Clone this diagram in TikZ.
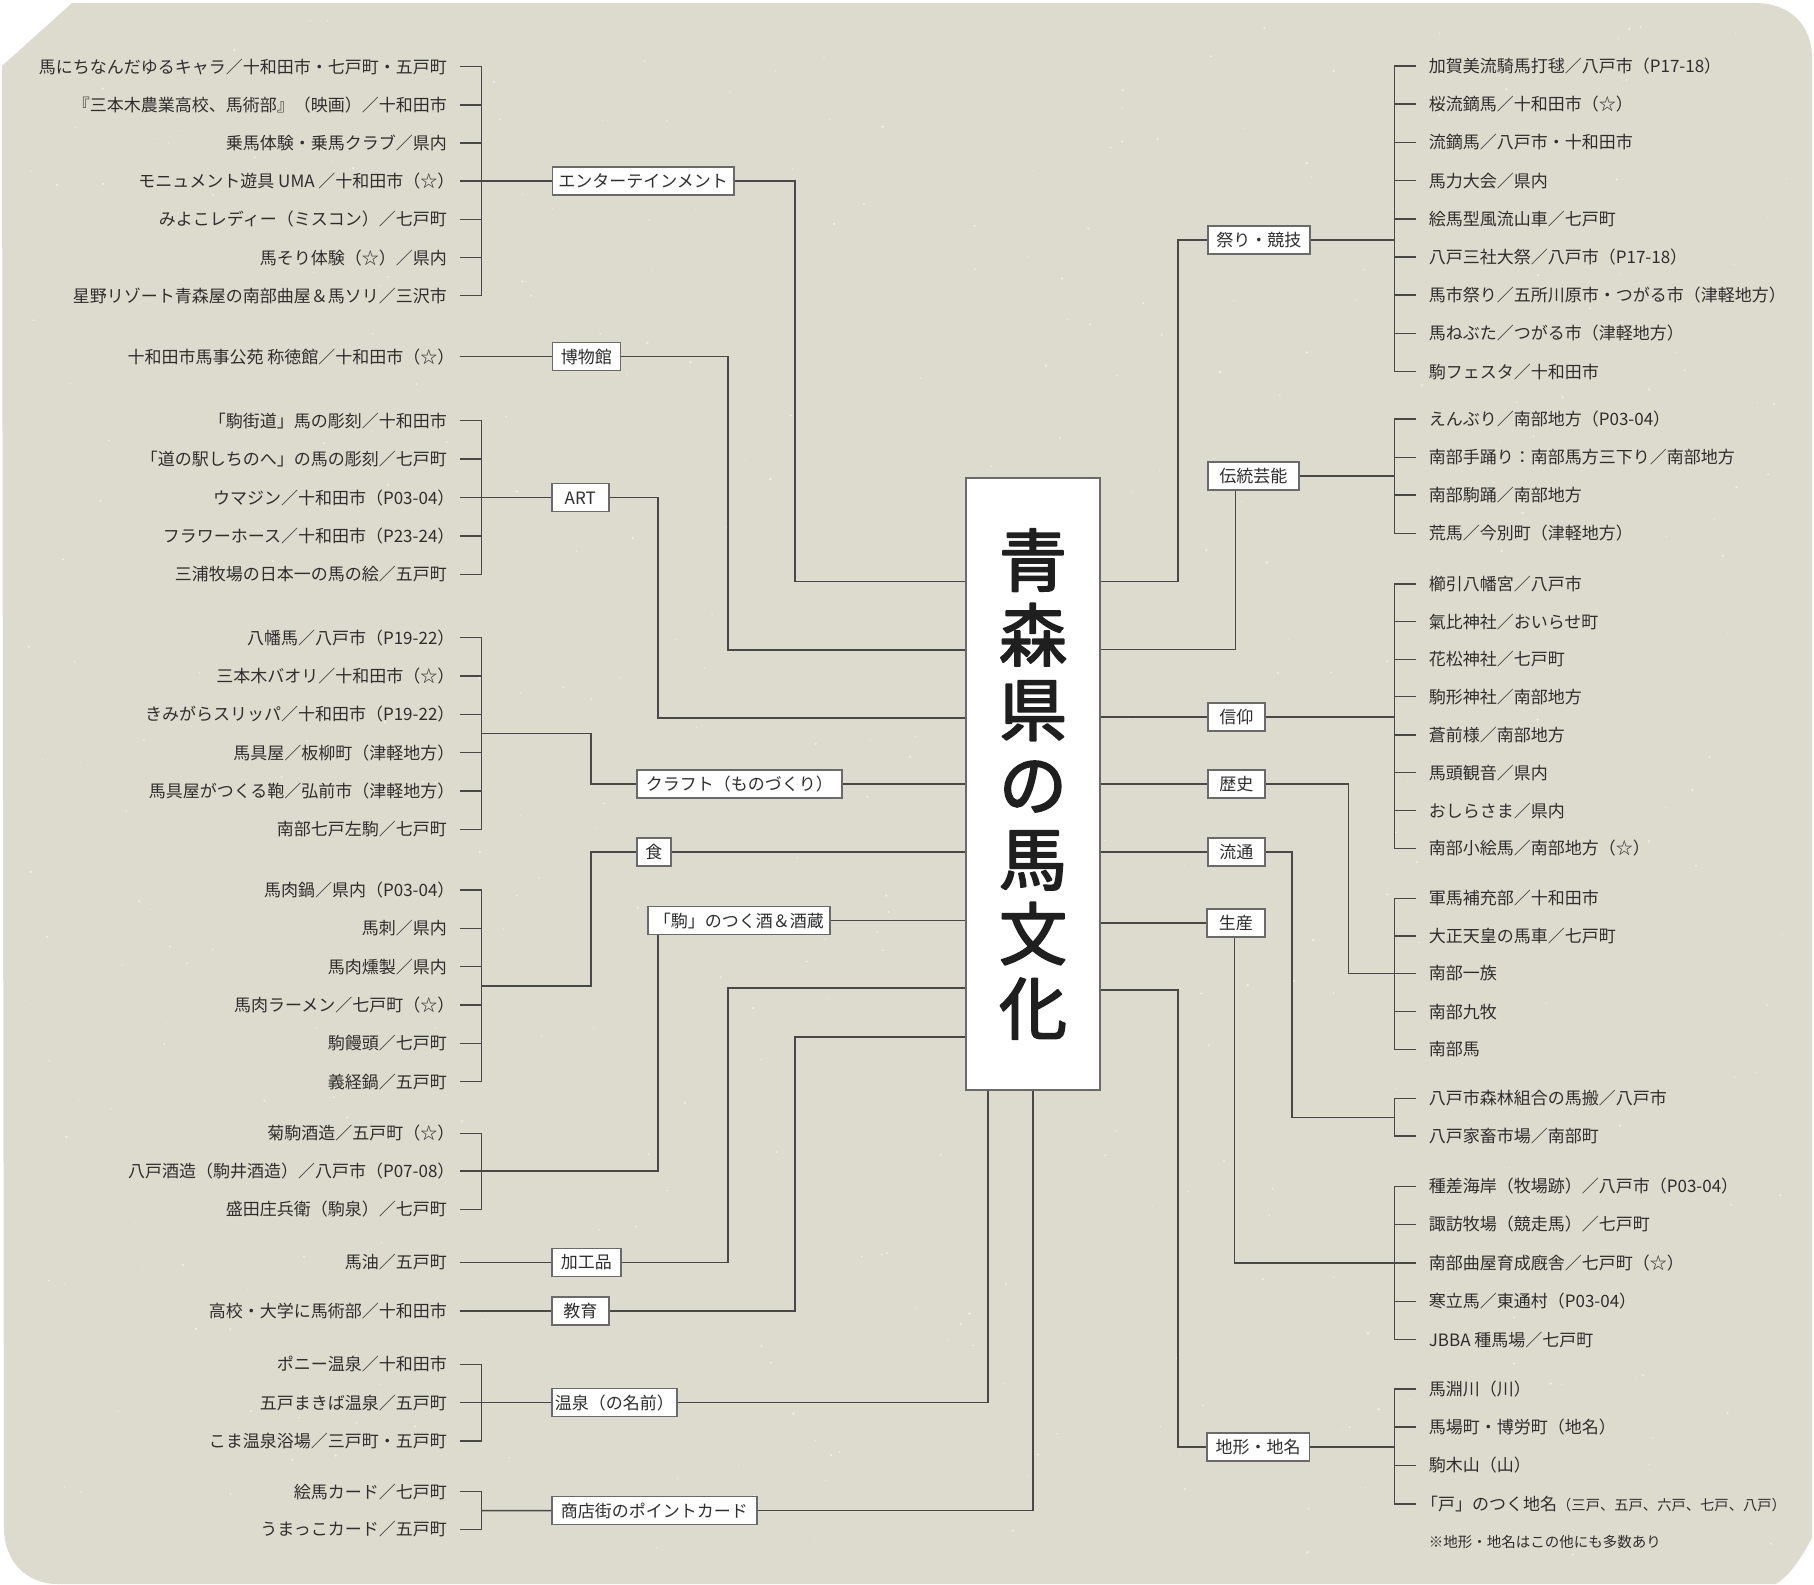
\documentclass[tikz,border=0pt]{standalone}
\usepackage{fontspec}
\setmainfont{Noto Sans CJK JP}
\usetikzlibrary{calc}
\definecolor{bgc}{HTML}{DDDBCD}
\definecolor{linec}{HTML}{484848}
\definecolor{boxc}{HTML}{6A6A6A}
\definecolor{txtc}{HTML}{2E2E2E}
\newcommand\rpk{）\kern-.45em}
\newcommand\lqk{\kern-.45em「}
\newcommand\thickon{\special{pdf:literal direct 2 Tr 1.8 w 1 j}}
\newcommand\thickoff{\special{pdf:literal direct 0 Tr}}
\newcommand\LItem[3]{\node[litem] (#1) at (447,#2) {#3};\draw[conn] ([xshift=12.6pt]#1.east) -- ++(22,0);}
\newcommand\RItem[3]{\node[ritem] (#1) at (1428.6,#2) {#3};\draw[conn] ([xshift=-12.9pt]#1.west) -- ++(-21.4,0);}
\newcommand\LBar[2]{\draw[conn] ([xshift=34.6pt]#1.east) -- ([xshift=34.6pt]#2.east);}
\newcommand\RBar[2]{\draw[conn] ([xshift=-34.3pt]#1.west) -- ([xshift=-34.3pt]#2.west);}
\begin{document}
\begin{tikzpicture}[x=1pt,y=-1pt,
  conn/.style={draw=linec,line width=1.5pt},
  itemtxt/.style={text=txtc,inner sep=0pt,font=\fontsize{17}{20}\selectfont,text height=15pt,text depth=2pt},
  litem/.style={itemtxt,anchor=east},
  ritem/.style={itemtxt,anchor=west},
  catbox/.style={draw=boxc,fill=white,line width=1.5pt,inner sep=0pt,minimum height=28pt,anchor=west,
    text=txtc,font=\fontsize{17}{20}\selectfont,text height=15pt,text depth=2pt},
  mainbox/.style={draw=boxc,fill=white,line width=1.5pt,inner sep=0pt,minimum width=134pt,minimum height=612pt,
    align=center,text=black!88,font=\fontsize{68}{74.7}\selectfont}]
\useasboundingbox (0,0) rectangle (1814,1584);
\fill[white] (0,0) rectangle (1814,1584);
\fill[bgc] (72,3) -- (1755,3) .. controls (1790,3) and (1812,25) .. (1812,58) -- (1812,1538)
  .. controls (1800,1560) and (1790,1575) .. (1776,1584) -- (58,1584)
  .. controls (25,1584) and (4,1560) .. (4,1528) -- (2,66) -- cycle;
% speckle texture
\pgfmathsetseed{4242}
\foreach \i in {1,...,420} {
  \pgfmathsetmacro\px{20+rnd*1770}
  \pgfmathsetmacro\py{20+rnd*1545}
  \pgfmathsetmacro\pr{0.5+rnd*0.9}
  \fill[white,opacity=0.55] (\px,\py) circle (\pr);
}

% main box
\node[mainbox] (main) at (1033,784) {\thickon 青\\\thickon 森\\\thickon 県\\\thickon の\\\thickon 馬\\\thickon 文\\\thickon 化\thickoff};

% ---------- left items ----------
\LItem{e1}{66.7}{馬にちなんだゆるキャラ／十和田市・七戸町・五戸町}
\LItem{e2}{104.9}{『三本木農業高校、馬術部』（映画）／十和田市}
\LItem{e3}{143.0}{乗馬体験・乗馬クラブ／県内}
\LItem{e4}{181.2}{モニュメント遊具 UMA ／十和田市（☆\rpk}
\LItem{e5}{219.4}{みよこレディー（ミスコン）／七戸町}
\LItem{e6}{257.5}{馬そり体験（☆）／県内}
\LItem{e7}{295.7}{星野リゾート青森屋の南部曲屋＆馬ソリ／三沢市}
\LItem{m1}{356.7}{十和田市馬事公苑 称徳館／十和田市（☆\rpk}
\LItem{a1}{420.7}{「駒街道」馬の彫刻／十和田市}
\LItem{a2}{459.1}{「道の駅しちのへ」の馬の彫刻／七戸町}
\LItem{a3}{497.5}{ウマジン／十和田市（P03-04\rpk}
\LItem{a4}{535.9}{フラワーホース／十和田市（P23-24\rpk}
\LItem{a5}{574.3}{三浦牧場の日本一の馬の絵／五戸町}
\LItem{c1}{637.7}{八幡馬／八戸市（P19-22\rpk}
\LItem{c2}{676.0}{三本木バオリ／十和田市（☆\rpk}
\LItem{c3}{714.3}{きみがらスリッパ／十和田市（P19-22\rpk}
\LItem{c4}{752.7}{馬具屋／板柳町（津軽地方\rpk}
\LItem{c5}{791.0}{馬具屋がつくる鞄／弘前市（津軽地方\rpk}
\LItem{c6}{829.3}{南部七戸左駒／七戸町}
\LItem{f1}{890.0}{馬肉鍋／県内（P03-04\rpk}
\LItem{f2}{928.3}{馬刺／県内}
\LItem{f3}{966.7}{馬肉燻製／県内}
\LItem{f4}{1005.0}{馬肉ラーメン／七戸町（☆\rpk}
\LItem{f5}{1043.3}{駒饅頭／七戸町}
\LItem{f6}{1081.7}{義経鍋／五戸町}
\LItem{s1}{1133.3}{菊駒酒造／五戸町（☆\rpk}
\LItem{s2}{1171.0}{八戸酒造（駒井酒造）／八戸市（P07-08\rpk}
\LItem{s3}{1209.3}{盛田庄兵衛（駒泉）／七戸町}
\LItem{p1}{1262.3}{馬油／五戸町}
\LItem{d1}{1311.0}{高校・大学に馬術部／十和田市}
\LItem{o1}{1364.3}{ポニー温泉／十和田市}
\LItem{o2}{1402.7}{五戸まきば温泉／五戸町}
\LItem{o3}{1441.0}{こま温泉浴場／三戸町・五戸町}
\LItem{k1}{1491.7}{絵馬カード／七戸町}
\LItem{k2}{1529.3}{うまっこカード／五戸町}
\LBar{e1}{e7}
\LBar{a1}{a5}
\LBar{c1}{c6}
\LBar{f1}{f6}
\LBar{s1}{s3}
\LBar{o1}{o3}
\LBar{k1}{k2}

% ---------- left category boxes ----------
\node[catbox,minimum width=181.4pt] (ent) at (551.6,181.2) {エンターテインメント};
\node[catbox,minimum width=68pt] (muse) at (551.6,356.7) {博物館};
\node[catbox,minimum width=57pt] (art) at (551,497.5) {ART};
\node[catbox,minimum width=205pt] (craft) at (636,784) {クラフト（ものづくり）};
\node[catbox,minimum width=34pt] (food) at (636,852) {食};
\node[catbox,minimum width=182pt] (sake) at (647,920.7) {「駒」のつく酒＆酒蔵};
\node[catbox,minimum width=69pt] (proc) at (551,1262.3) {加工品};
\node[catbox,minimum width=57pt] (edu) at (551,1311) {教育};
\node[catbox,minimum width=125pt] (onsen) at (551,1402.7) {温泉（の名前）};
\node[catbox,minimum width=205pt] (card) at (551,1510.5) {商店街のポイントカード};

% group -> box
\draw[conn] ([xshift=34.6pt]e4.east) -- (ent.west);
\draw[conn] ([xshift=12.6pt]m1.east) -- (muse.west);
\draw[conn] ([xshift=34.6pt]a3.east) -- (art.west);
\coordinate (jc) at ($(c3.east)!.5!(c4.east)+(34.6,0)$);
\draw[conn] (jc) -| ([xshift=-45pt]craft.west) -- (craft.west);
\coordinate (jf) at ($(f3.east)!.5!(f4.east)+(34.6,0)$);
\draw[conn] (jf) -| ([xshift=-45pt]food.west) -- (food.west);
\draw[conn] ([xshift=34.6pt]s2.east) -| ([xshift=11pt]sake.south west);
\draw[conn] ([xshift=12.6pt]p1.east) -- (proc.west);
\draw[conn] ([xshift=12.6pt]d1.east) -- (edu.west);
\draw[conn] ([xshift=34.6pt]o2.east) -- (onsen.west);
\coordinate (jk) at ($(k1.east)!.5!(k2.east)+(34.6,0)$);
\draw[conn] (jk) -- (card.west);

% box -> main
\coordinate (kEnt) at (795,581.6);
\draw[conn] (ent.east) -| (kEnt) -- (kEnt -| main.west);
\coordinate (kMus) at (728,650);
\draw[conn] (muse.east) -| (kMus) -- (kMus -| main.west);
\coordinate (kArt) at (658,718);
\draw[conn] (art.east) -| (kArt) -- (kArt -| main.west);
\draw[conn] (craft.east) -- (craft.east -| main.west);
\draw[conn] (food.east) -- (food.east -| main.west);
\draw[conn] (sake.east) -- (sake.east -| main.west);
\coordinate (kProc) at (728,988);
\draw[conn] (proc.east) -| (kProc) -- (kProc -| main.west);
\coordinate (kEdu) at (795,1037);
\draw[conn] (edu.east) -| (kEdu) -- (kEdu -| main.west);
\coordinate (kOns) at (988,1402.7);
\draw[conn] (onsen.east) -- (kOns) -- (kOns |- main.south);
\draw[conn] (card.east) -| (main.south);

% ---------- right items ----------
\RItem{r1}{66.0}{加賀美流騎馬打毬／八戸市（P17-18）}
\RItem{r2}{104.2}{桜流鏑馬／十和田市（☆）}
\RItem{r3}{142.4}{流鏑馬／八戸市・十和田市}
\RItem{r4}{180.6}{馬力大会／県内}
\RItem{r5}{218.8}{絵馬型風流山車／七戸町}
\RItem{r6}{257.0}{八戸三社大祭／八戸市（P17-18）}
\RItem{r7}{295.2}{馬市祭り／五所川原市・つがる市（津軽地方）}
\RItem{r8}{333.4}{馬ねぶた／つがる市（津軽地方）}
\RItem{r9}{371.6}{駒フェスタ／十和田市}
\RItem{t1}{419.0}{えんぶり／南部地方（P03-04）}
\RItem{t2}{457.3}{南部手踊り：南部馬方三下り／南部地方}
\RItem{t3}{495.0}{南部駒踊／南部地方}
\RItem{t4}{533.3}{荒馬／今別町（津軽地方）}
\RItem{h1}{584.0}{櫛引八幡宮／八戸市}
\RItem{h2}{621.7}{氣比神社／おいらせ町}
\RItem{h3}{659.3}{花松神社／七戸町}
\RItem{h4}{696.7}{駒形神社／南部地方}
\RItem{h5}{735.0}{蒼前様／南部地方}
\RItem{h6}{772.7}{馬頭観音／県内}
\RItem{h7}{810.7}{おしらさま／県内}
\RItem{h8}{848.3}{南部小絵馬／南部地方（☆）}
\RItem{g1}{898.3}{軍馬補充部／十和田市}
\RItem{g2}{936.0}{大正天皇の馬車／七戸町}
\RItem{g3}{973.3}{南部一族}
\RItem{g4}{1011.7}{南部九牧}
\RItem{g5}{1049.3}{南部馬}
\RItem{u1}{1098.4}{八戸市森林組合の馬搬／八戸市}
\RItem{u2}{1136.2}{八戸家畜市場／南部町}
\RItem{q1}{1186.3}{種差海岸（牧場跡）／八戸市（P03-04）}
\RItem{q2}{1224.4}{諏訪牧場（競走馬）／七戸町}
\RItem{q3}{1262.9}{南部曲屋育成廐舎／七戸町（☆）}
\RItem{q4}{1301.3}{寒立馬／東通村（P03-04）}
\RItem{q5}{1339.7}{JBBA 種馬場／七戸町}
\RItem{y1}{1389.2}{馬淵川（川）}
\RItem{y2}{1427.0}{馬場町・博労町（地名）}
\RItem{y3}{1465.4}{駒木山（山）}
\RItem{y4}{1503.8}{\lqk 戸」のつく地名{\fontsize{14.3}{17}\selectfont（三戸、五戸、六戸、七戸、八戸）}}
\node[ritem,font=\fontsize{14.5}{17}\selectfont] (note) at (1428.6,1541.3) {※地形・地名はこの他にも多数あり};
\RBar{r1}{r9}
\RBar{t1}{t4}
\RBar{h1}{h8}
\RBar{g1}{g5}
\RBar{u1}{u2}
\RBar{q1}{q5}
\RBar{y1}{y4}

% ---------- right category boxes ----------
\node[catbox,minimum width=102.4pt] (fest) at (1207,240) {祭り・競技};
\node[catbox,minimum width=91pt] (trad) at (1207,476.2) {伝統芸能};
\node[catbox,minimum width=57pt] (faith) at (1207,717) {信仰};
\node[catbox,minimum width=57pt] (hist) at (1207,784) {歴史};
\node[catbox,minimum width=57pt] (dist) at (1207,852) {流通};
\node[catbox,minimum width=58pt] (prod) at (1206,923) {生産};
\node[catbox,minimum width=102.6pt] (geo) at (1206,1447) {地形・地名};

\coordinate (jr) at ($(r5.west)+(-34.3,0)$);
% main -> boxes
\coordinate (kFest) at (1178,581.6);
\draw[conn] (kFest -| main.east) -- (kFest) |- (fest.west);
\coordinate (kTrad) at (1235.4,649.7);
\draw[conn] (kTrad -| main.east) -- (kTrad) -- (kTrad |- trad.south);
\draw[conn] (faith.west -| main.east) -- (faith.west);
\draw[conn] (hist.west -| main.east) -- (hist.west);
\draw[conn] (dist.west -| main.east) -- (dist.west);
\draw[conn] (prod.west -| main.east) -- (prod.west);
\coordinate (kGeo) at (1178,990);
\draw[conn] (kGeo -| main.east) -- (kGeo) |- (geo.west);

% boxes -> groups
\draw[conn] (fest.east) -- (fest.east -| jr);
\draw[conn] (trad.east) -- (trad.east -| jr);
\draw[conn] (faith.east) -- (faith.east -| jr);
\coordinate (kHist) at (1348.6,784);
\draw[conn] (hist.east) -- (kHist) |- ([xshift=-34.3pt]g3.west);
\coordinate (ju) at ($(u1.west)!.5!(u2.west)+(-34.3,0)$);
\coordinate (kDist) at (1292,852);
\draw[conn] (dist.east) -- (kDist) |- (ju);
\draw[conn] ([xshift=28.6pt]prod.south west) |- ([xshift=-34.3pt]q3.west);
\draw[conn] (geo.east) -- (geo.east -| jr);
\end{tikzpicture}
\end{document}
